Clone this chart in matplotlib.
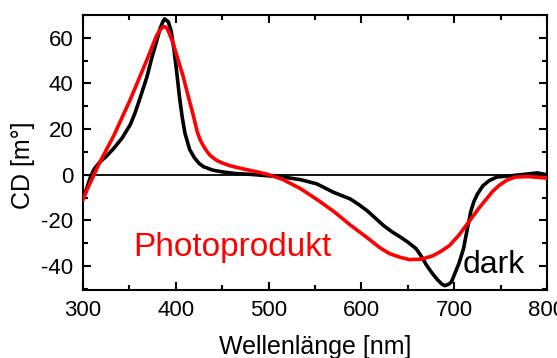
import matplotlib.pyplot as plt
import numpy as np

plt.rcParams['font.family'] = ['Liberation Sans', 'DejaVu Sans']
plt.rcParams['axes.unicode_minus'] = False

# dark spectrum
wl_dark = [300, 304, 308, 312, 318, 325, 333, 342, 351, 356, 361, 365, 369, 374,
           379, 383, 386, 388, 392, 395, 398, 401, 404, 407, 410, 415, 420, 425,
           430, 440, 451, 465, 480, 516, 535, 552, 570, 588, 597, 606, 615, 624,
           633, 642, 650, 659, 665, 670, 676, 682, 687, 690, 694, 697, 700, 705,
           710, 715, 718, 721, 725, 731, 738, 746, 760, 783, 790, 800]
cd_dark = [-10, -6, -1, 2.5, 5.5, 8, 11.5, 16, 22, 27, 33, 38, 43, 51,
           58, 64, 67, 68.3, 67, 63, 55, 45, 34, 25, 18, 11, 7.5, 5,
           3.5, 2, 1.2, 0.5, 0.2, -1, -2.2, -4, -7.7, -10.6, -13, -15.7, -19, -22.3,
           -25, -27.3, -29.5, -32.4, -36, -39.5, -43, -46, -48, -48.6, -48, -47, -44, -39,
           -32.5, -22, -16, -12, -8.5, -4.8, -2.5, -1, -0.5, 0.5, 0.8, 0]

# Photoprodukt spectrum
wl_photo = [300, 305, 318, 333, 351, 369, 379, 383, 387, 390, 393, 397, 402, 408,
            413, 419, 423, 426, 430, 434, 437, 441, 444, 450, 458, 470, 485, 498,
            515, 534, 552, 570, 588, 606, 620, 630, 642, 652, 665, 677, 686, 695,
            705, 717, 726, 735, 742, 749, 757, 766, 780, 800]
cd_photo = [-11, -6, 5.4, 17, 33, 50.5, 60.7, 63.5, 65, 64.5, 62, 57.8, 51, 43,
            35, 25.8, 19, 15.5, 12.5, 10, 8.5, 7.2, 6.3, 5.2, 4, 2.8, 1.5, 0.3,
            -2, -6, -10.8, -16, -22, -27.5, -32, -34.5, -36.2, -37.2, -37, -35.5, -33.5, -31,
            -26.5, -20, -15, -10.5, -7, -4.5, -2.3, -1, -0.8, -1.5]

fig = plt.figure(figsize=(5.57, 3.58), dpi=100)
ax = fig.add_axes([0.149, 0.19, 0.833, 0.768])

ax.axhline(0, color='black', lw=1.3, zorder=1)
ax.plot(wl_dark, cd_dark, color='black', lw=2.6, zorder=2)
ax.plot(wl_photo, cd_photo, color='red', lw=2.6, zorder=3)

ax.text(354, -35.6, 'Photoprodukt', color='red', fontsize=24, ha='left', va='baseline')
ax.text(708.7, -43, 'dark', color='black', fontsize=23, ha='left', va='baseline')

ax.set_xlim(300, 800)
ax.set_ylim(-50.5, 70)
ax.set_xticks(np.arange(300, 801, 100))
ax.set_xticks(np.arange(350, 800, 100), minor=True)
ax.set_yticks(np.arange(-40, 61, 20))
ax.set_yticks(np.arange(-50, 71, 10), minor=True)

ax.tick_params(which='both', direction='in', top=True, right=True, width=1.5,
               labelsize=16, pad=7)
ax.tick_params(which='major', length=6)
ax.tick_params(which='minor', length=3.5)
for s in ax.spines.values():
    s.set_linewidth(1.5)

ax.set_xlabel('Wellenlänge [nm]', fontsize=18)
ax.set_ylabel('CD [m°]', fontsize=18)
ax.xaxis.set_label_coords(0.5, -0.165)
ax.yaxis.set_label_coords(-0.103, 0.455)

fig.savefig('out.png', dpi=100)
